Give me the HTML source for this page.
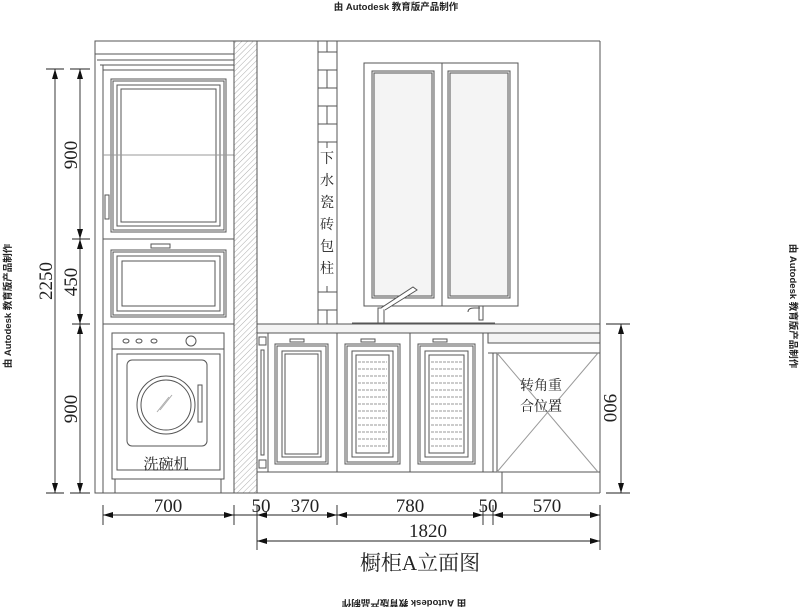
<!DOCTYPE html>
<html><head><meta charset="utf-8"><style>
html,body{margin:0;padding:0;background:#fff;}
svg{display:block;}
text{font-family:"Liberation Serif","Noto Serif CJK SC",serif;fill:#222;}
.wm{font-family:"Liberation Sans","Noto Sans CJK SC",sans-serif;font-size:9.5px;font-weight:bold;fill:#222;}
</style></head><body>
<svg width="800" height="607" viewBox="0 0 800 607" xmlns="http://www.w3.org/2000/svg">
<defs>
<pattern id="h" width="4" height="4" patternUnits="userSpaceOnUse" patternTransform="rotate(45)">
<line x1="0" y1="0" x2="0" y2="4" stroke="#999" stroke-width="0.8"/></pattern>
<marker id="a" viewBox="0 0 10 6" refX="10" refY="3" markerWidth="10" markerHeight="6" orient="auto-start-reverse" markerUnits="userSpaceOnUse"><path d="M0,0L10,3L0,6z" fill="#111"/></marker>
</defs>
<text class="wm" x="396" y="10" text-anchor="middle">由 Autodesk 教育版产品制作</text>
<text class="wm" x="0" y="0" text-anchor="middle" transform="translate(404,600) rotate(180)">由 Autodesk 教育版产品制作</text>
<text class="wm" x="0" y="0" text-anchor="middle" transform="translate(11,306) rotate(-90)">由 Autodesk 教育版产品制作</text>
<text class="wm" x="0" y="0" text-anchor="middle" transform="translate(790,306) rotate(90)">由 Autodesk 教育版产品制作</text>

<g fill="none" stroke="#555" stroke-width="1">
<!-- outer -->
<line x1="95" y1="41" x2="600" y2="41"/>
<line x1="600" y1="41" x2="600" y2="493"/>
<line x1="95" y1="493" x2="600" y2="493"/>
<!-- tall cabinet -->
<rect x="95" y="41" width="139" height="452"/>
<line x1="95" y1="54" x2="234" y2="54"/>
<line x1="97" y1="60" x2="234" y2="60"/>
<line x1="100" y1="65" x2="234" y2="65"/>
<line x1="103" y1="65" x2="103" y2="493"/>
<line x1="103" y1="70" x2="234" y2="70"/>
<rect x="111" y="79" width="115" height="153"/>
<rect x="113" y="81" width="111" height="149"/>
<rect x="117" y="85" width="103" height="141"/>
<rect x="121" y="89" width="95" height="133"/>
<line x1="103" y1="155" x2="234" y2="155" stroke="#999"/>
<rect x="105" y="195" width="4" height="24"/>
<line x1="103" y1="239" x2="234" y2="239"/>
<rect x="151" y="244" width="19" height="4"/>
<rect x="111" y="250" width="115" height="67"/>
<rect x="113" y="252" width="111" height="63"/>
<rect x="117" y="256" width="103" height="55"/>
<rect x="122" y="261" width="93" height="45"/>
<line x1="103" y1="324" x2="234" y2="324"/>
<!-- dishwasher -->
<rect x="112" y="333" width="112" height="146"/>
<line x1="112" y1="349" x2="224" y2="349"/>
<ellipse cx="126" cy="341" rx="3" ry="2"/><ellipse cx="139" cy="341" rx="3" ry="2"/><ellipse cx="154" cy="341" rx="3" ry="2"/>
<circle cx="191" cy="341" r="5"/>
<rect x="117" y="354" width="103" height="116"/>
<rect x="127" y="360" width="80" height="86" rx="5"/>
<circle cx="166" cy="405" r="29"/>
<circle cx="166" cy="405" r="25"/>
<line x1="160" y1="410" x2="172" y2="395" stroke="#aaa"/>
<line x1="157" y1="412" x2="169" y2="397" stroke="#aaa"/>
<rect x="198" y="385" width="4" height="37"/>
<line x1="115" y1="479" x2="115" y2="493"/><line x1="221" y1="479" x2="221" y2="493"/>
<!-- hatch wall -->
<rect x="234" y="41" width="23" height="452" fill="url(#h)"/>
<!-- tile column -->
<line x1="318" y1="41" x2="318" y2="324"/>
<line x1="337" y1="41" x2="337" y2="324"/>
<path d="M318,52H337M318,70H337M318,88H337M318,106H337M318,124H337M318,142H337M318,292H337M318,310H337"/>
<path d="M327,41V52M327,70V88M327,106V124M327,142V148M327,286V292M327,310V324"/>
<!-- window -->
<rect x="364" y="63" width="154" height="243"/>
<line x1="442" y1="63" x2="442" y2="306"/>
<rect x="372" y="71" width="62" height="227" fill="#f4f4f4"/>
<rect x="374" y="73" width="58" height="223"/>
<rect x="448" y="71" width="62" height="227" fill="#f4f4f4"/>
<rect x="450" y="73" width="58" height="223"/>
<!-- faucet -->
<rect x="378" y="308" width="6" height="15" fill="#fff"/>
<path d="M381,308 L413,287 L417,290 L385,310" fill="#fff"/>
<path d="M468,312 q0,-4 6,-4 h6 M479,306 v14 h4 v-14z"/>
<line x1="352" y1="323" x2="495" y2="323"/>
<!-- countertop -->
<rect x="257" y="324" width="343" height="9" fill="#f4f4f4"/>
<rect x="488" y="333" width="112" height="10" fill="#f4f4f4"/>
<line x1="488" y1="333" x2="488" y2="343"/>
<!-- base cabinets -->
<line x1="257" y1="472" x2="600" y2="472"/>
<line x1="337" y1="333" x2="337" y2="472"/>
<line x1="410" y1="333" x2="410" y2="472"/>
<line x1="483" y1="333" x2="483" y2="472"/>
<line x1="268" y1="333" x2="268" y2="472"/>
<rect x="259" y="337" width="7" height="8"/><rect x="259" y="460" width="7" height="8"/>
<rect x="261" y="350" width="3" height="105"/>
<rect x="275" y="344" width="53" height="120"/><rect x="277" y="346" width="49" height="116"/>
<rect x="282" y="351" width="39" height="106"/><rect x="285" y="354" width="33" height="100"/>
<rect x="290" y="339" width="14" height="3"/>
<rect x="345" y="344" width="55" height="120"/><rect x="347" y="346" width="51" height="116"/>
<rect x="352" y="351" width="41" height="106"/><rect x="356" y="355" width="33" height="98"/>
<rect x="361" y="339" width="14" height="3"/>
<rect x="418" y="344" width="57" height="120"/><rect x="420" y="346" width="53" height="116"/>
<rect x="425" y="351" width="43" height="106"/><rect x="429" y="355" width="35" height="98"/>
<rect x="433" y="339" width="14" height="3"/>
<path stroke="#999" stroke-dasharray="3,1" d="M358,362H387M358,369H387M358,376H387M358,383H387M358,390H387M358,397H387M358,404H387M358,411H387M358,418H387M358,425H387M358,432H387M358,439H387M358,446H387M431,362H462M431,369H462M431,376H462M431,383H462M431,390H462M431,397H462M431,404H462M431,411H462M431,418H462M431,425H462M431,432H462M431,439H462M431,446H462"/>
<!-- corner -->
<line x1="488" y1="353" x2="600" y2="353"/>
<line x1="493" y1="353" x2="493" y2="472"/>
<line x1="497" y1="353" x2="497" y2="472"/>
<line x1="497" y1="353" x2="598" y2="472" stroke="#999"/>
<line x1="598" y1="353" x2="497" y2="472" stroke="#999"/>
<line x1="502" y1="472" x2="502" y2="493"/>
</g>

<g stroke="#222" stroke-width="0.9" fill="none">
<!-- left dims -->
<line x1="55" y1="69" x2="55" y2="493" marker-start="url(#a)" marker-end="url(#a)"/>
<line x1="80" y1="69" x2="80" y2="239" marker-start="url(#a)" marker-end="url(#a)"/>
<line x1="80" y1="239" x2="80" y2="324" marker-start="url(#a)" marker-end="url(#a)"/>
<line x1="80" y1="324" x2="80" y2="493" marker-start="url(#a)" marker-end="url(#a)"/>
<path d="M46,69H64M70,69H90M72,239H90M72,324H90M46,493H64M70,493H90"/>
<!-- right dim -->
<line x1="621" y1="324" x2="621" y2="493" marker-start="url(#a)" marker-end="url(#a)"/>
<path d="M606,324H630M606,493H630"/>
<!-- bottom dims -->
<line x1="103" y1="515" x2="234" y2="515" marker-start="url(#a)" marker-end="url(#a)"/>
<line x1="257" y1="515" x2="337" y2="515" marker-start="url(#a)" marker-end="url(#a)"/>
<line x1="337" y1="515" x2="483" y2="515" marker-start="url(#a)" marker-end="url(#a)"/>
<line x1="493" y1="515" x2="600" y2="515" marker-start="url(#a)" marker-end="url(#a)"/>
<line x1="234" y1="515" x2="257" y2="515"/>
<line x1="483" y1="515" x2="493" y2="515"/>
<line x1="257" y1="541" x2="600" y2="541" marker-start="url(#a)" marker-end="url(#a)"/>
<path d="M103,505V525M234,505V525M257,505V550M337,505V525M483,505V525M493,505V525M600,505V550"/>
</g>

<g font-size="19">
<text transform="translate(77,155) rotate(-90)" text-anchor="middle">900</text>
<text transform="translate(77,282) rotate(-90)" text-anchor="middle">450</text>
<text transform="translate(77,409) rotate(-90)" text-anchor="middle">900</text>
<text transform="translate(52,281) rotate(-90)" text-anchor="middle">2250</text>
<text transform="translate(604,408) rotate(90)" text-anchor="middle">900</text>
<text x="168" y="512" text-anchor="middle">700</text>
<text x="261" y="512" text-anchor="middle">50</text>
<text x="305" y="512" text-anchor="middle">370</text>
<text x="410" y="512" text-anchor="middle">780</text>
<text x="488" y="512" text-anchor="middle">50</text>
<text x="547" y="512" text-anchor="middle">570</text>
<text x="428" y="537" text-anchor="middle">1820</text>
</g>
<text x="166" y="469" font-size="15" text-anchor="middle">洗碗机</text>
<text x="541" y="390" font-size="14" text-anchor="middle">转角重</text>
<text x="541" y="411" font-size="14" text-anchor="middle">合位置</text>
<g font-size="14" text-anchor="middle">
<text x="327" y="163">下</text><text x="327" y="185">水</text><text x="327" y="207">瓷</text>
<text x="327" y="229">砖</text><text x="327" y="251">包</text><text x="327" y="273">柱</text>
</g>
<text x="420" y="570" font-size="21" text-anchor="middle">橱柜A立面图</text>
</svg>
</body></html>
